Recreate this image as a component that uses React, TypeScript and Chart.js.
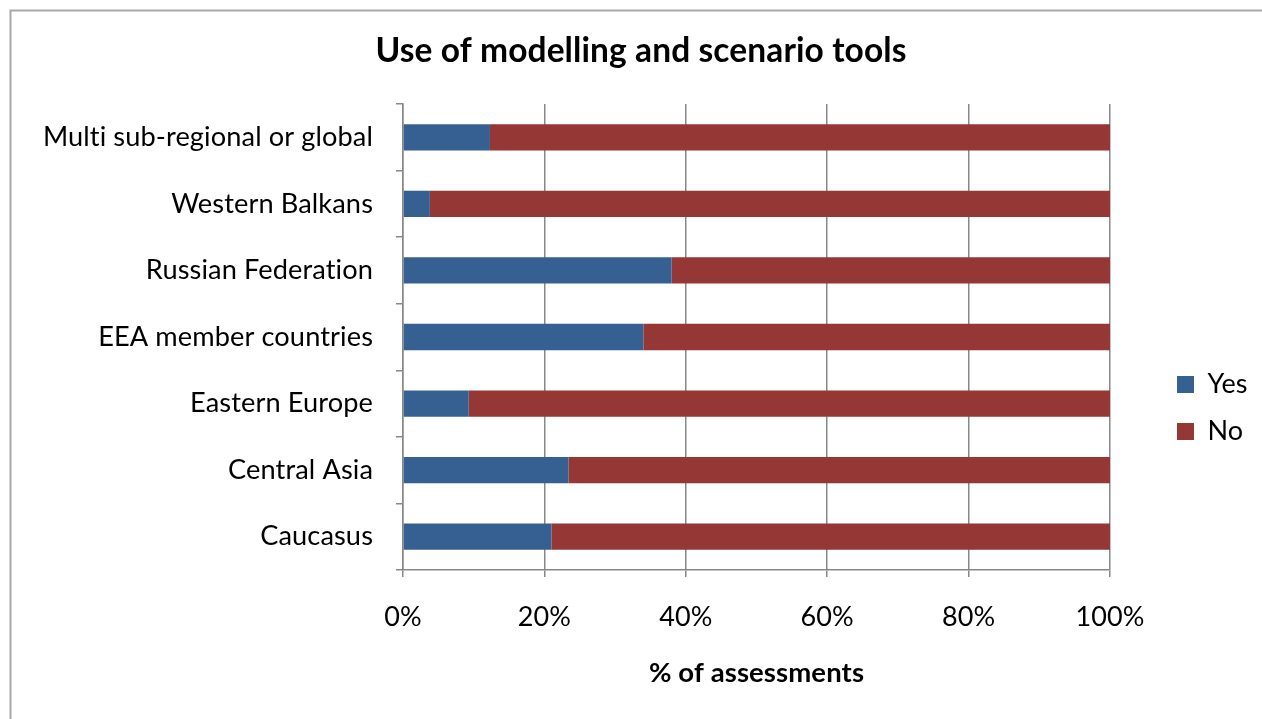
import React, { useEffect, useRef } from "react";
import { Chart, registerables } from "chart.js";

Chart.register(...registerables);

const categories = [
  "Multi sub-regional or global",
  "Western Balkans",
  "Russian Federation",
  "EEA member countries",
  "Eastern Europe",
  "Central Asia",
  "Caucasus",
];
const yesValues = [12.3, 3.8, 38.0, 34.0, 9.3, 23.4, 21.0];
const noValues = [87.7, 96.2, 62.0, 66.0, 90.7, 76.6, 79.0];
const seriesNames = ["Yes", "No"];
const seriesColors = ["#376092", "#953735"];
const titleText = "Use of modelling and scenario tools";
const xAxisTitle = "% of assessments";

const FONT = "Lato";

const frame = {
  id: "frame",
  beforeDraw(chart: any) {
    const ctx = chart.ctx;
    ctx.save();
    ctx.fillStyle = "#ffffff";
    ctx.fillRect(0, 0, chart.width, chart.height);
    ctx.strokeStyle = "#a8a8a8";
    ctx.lineWidth = 2;
    ctx.strokeRect(10.5, 10.5, chart.width + 20, chart.height + 20);
    ctx.restore();
    try {
      (ctx as any).letterSpacing = "0.1px";
    } catch (e) {}
  },
};

const legendPlace = {
  id: "legendPlace",
  beforeInit(chart: any) {
    const orig = chart.legend.fit;
    chart.legend.fit = function () {
      orig.bind(chart.legend)();
      this.width = 152;
    };
  },
  afterLayout(chart: any) {
    const lg = chart.legend;
    if (lg) {
      lg.left = 1157;
      lg.top = 351;
    }
  },
};

export default function App() {
  const ref = useRef<HTMLCanvasElement>(null);
  useEffect(() => {
    if (!ref.current) return;
    const chart = new Chart(ref.current, {
      type: "bar",
      data: {
        labels: categories,
        datasets: [
          {
            label: seriesNames[0],
            data: yesValues,
            backgroundColor: seriesColors[0],
            barPercentage: 0.395,
            categoryPercentage: 1,
          },
          {
            label: seriesNames[1],
            data: noValues,
            backgroundColor: seriesColors[1],
            barPercentage: 0.395,
            categoryPercentage: 1,
          },
        ],
      },
      options: {
        indexAxis: "y",
        responsive: false,
        animation: false,
        layout: { padding: { left: 20, right: 0, top: 0, bottom: 0 } },
        plugins: {
          title: {
            display: true,
            text: titleText,
            color: "#000",
            font: { family: FONT, size: 33.5, weight: "bold" },
            padding: { top: 31.3, bottom: 32.5 },
          },
          legend: {
            position: "right",
            align: "start",
            labels: {
              color: "#000",
              font: { family: FONT, size: 27 },
              boxWidth: 17,
              boxHeight: 17,
              padding: 20,
            },
          },
          tooltip: { enabled: false },
        },
        scales: {
          x: {
            stacked: true,
            min: 0,
            max: 100,
            ticks: {
              stepSize: 20,
              color: "#000",
              font: { family: FONT, size: 27 },
              padding: 24,
              callback: (v: any) => `${v}%`,
            },
            grid: {
              color: "#888888",
              lineWidth: 1.5,
              tickLength: 7,
              drawTicks: true,
            },
            border: { color: "#888888", width: 1.5 },
            title: {
              display: true,
              text: xAxisTitle,
              color: "#000",
              font: { family: FONT, size: 27.5, weight: "bold" },
              padding: { top: 0, bottom: 29 },
            },
            afterFit(scale: any) {
              scale.height = 149;
            },
          },
          y: {
            stacked: true,
            ticks: {
              color: "#000",
              font: { family: FONT, size: 27.2 },
              padding: 23,
            },
            grid: {
              drawOnChartArea: false,
              drawTicks: true,
              tickLength: 7,
              color: "#888888",
              lineWidth: 1.5,
              offset: true,
            },
            border: { color: "#888888", width: 1.5 },
            afterFit(scale: any) {
              scale.width = 383;
            },
          },
        },
      },
      plugins: [frame, legendPlace],
    });
    return () => chart.destroy();
  }, []);
  return (
    <div style={{ position: "absolute", left: 0, top: 0, width: 1262, height: 719 }}>
      <canvas ref={ref} width={1262} height={719} style={{ display: "block" }} />
    </div>
  );
}
